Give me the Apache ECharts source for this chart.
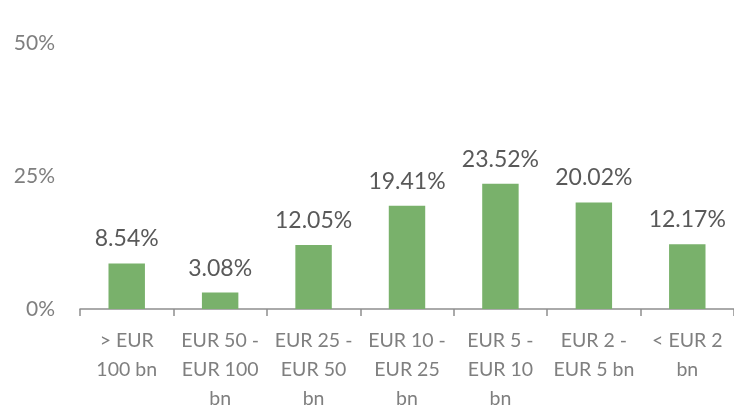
<!DOCTYPE html>
<html>
<head>
<meta charset="utf-8">
<script src="https://cdn.jsdelivr.net/npm/echarts@6/dist/echarts.min.js"></script>
<style>
  html, body { margin: 0; padding: 0; background: #fff; }
  #chart { width: 734px; height: 413px; }
</style>
</head>
<body>
<div id="chart"></div>
<script>
// size buckets (total assets)
const categories = [
  "> EUR\n100 bn",
  "EUR 50 -\nEUR 100\nbn",
  "EUR 25 -\nEUR 50\nbn",
  "EUR 10 -\nEUR 25\nbn",
  "EUR 5 -\nEUR 10\nbn",
  "EUR 2 -\nEUR 5 bn",
  "< EUR 2\nbn"
];
const shares = [8.54, 3.08, 12.05, 19.41, 23.52, 20.02, 12.17];
const yTicks = [0, 25, 50];

const chart = echarts.init(document.getElementById("chart"));

const option = {
  animation: false,
  textStyle: { fontFamily: "Lato, 'Open Sans', sans-serif" },
  grid: { left: 80, width: 659, top: 43, bottom: 100 },
  xAxis: {
    type: "category",
    data: categories,
    axisLine: { lineStyle: { color: "#8f8f8f", width: 1.5 } },
    axisTick: { show: true, length: 7, lineStyle: { color: "#8f8f8f", width: 1.5 } },
    axisLabel: {
      interval: 0,
      color: "#7f7f7f",
      fontSize: 19.5,
      lineHeight: 29,
      margin: 17
    }
  },
  yAxis: {
    type: "value",
    min: yTicks[0],
    max: yTicks[yTicks.length - 1],
    interval: 25,
    splitLine: { show: false },
    axisLine: { show: false },
    axisTick: { show: false },
    axisLabel: {
      color: "#7f7f7f",
      fontSize: 21,
      margin: 25,
      formatter: (v) => v + "%"
    }
  },
  series: [{
    type: "bar",
    data: shares,
    barWidth: "39%",
    itemStyle: { color: "#79b16b" },
    label: {
      show: true,
      position: "top",
      distance: 13,
      color: "#595959",
      fontSize: 23,
      formatter: (p) => p.value.toFixed(2) + "%"
    }
  }]
};

chart.setOption(option);
</script>
</body>
</html>
